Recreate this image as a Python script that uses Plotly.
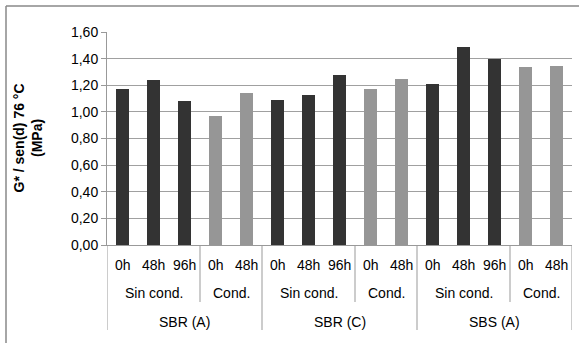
import plotly.graph_objects as go

# Data
groups = ["SBR (A)", "SBR (C)", "SBS (A)"]
subgroups = ["Sin cond.", "Cond."]
times_sin = ["0h", "48h", "96h"]
times_cond = ["0h", "48h"]
values_sin = {"SBR (A)": [1.17, 1.24, 1.08], "SBR (C)": [1.09, 1.13, 1.28], "SBS (A)": [1.21, 1.49, 1.40]}
values_cond = {"SBR (A)": [0.97, 1.14], "SBR (C)": [1.17, 1.25], "SBS (A)": [1.34, 1.345]}
y_ticks = [0, 0.2, 0.4, 0.6, 0.8, 1.0, 1.2, 1.4, 1.6]

dark = "#333333"
light = "#969696"
axis_gray = "#999999"
font_fam = "Liberation Sans, Arial, sans-serif"
fs = 14

# Build flat list
labels, vals, colors = [], [], []
sub_spans = []   # (start, end, label)
grp_spans = []
idx = 0
for g in groups:
    gs = idx
    for sg, times, vdict, col in [("Sin cond.", times_sin, values_sin, dark), ("Cond.", times_cond, values_cond, light)]:
        ss = idx
        for t, v in zip(times, vdict[g]):
            labels.append(t); vals.append(v); colors.append(col)
            idx += 1
        sub_spans.append((ss, idx - 1, sg))
    grp_spans.append((gs, idx - 1, g))
n = len(vals)
xs = list(range(n))

fig = go.Figure(go.Bar(x=xs, y=vals, marker_color=colors, width=0.42, marker_line_width=0))

# y px mapping: plot height 213 px
def py(px_below):
    return -px_below / 213.0

annotations = []
for i, t in enumerate(labels):
    annotations.append(dict(x=i, y=py(20), xref="x", yref="paper", text=t, showarrow=False,
                            font=dict(size=fs, color="#000", family=font_fam), yanchor="middle", xanchor="center"))
for s, e, lab in sub_spans:
    annotations.append(dict(x=(s + e) / 2, y=py(48), xref="x", yref="paper", text=lab, showarrow=False,
                            font=dict(size=fs, color="#000", family=font_fam), yanchor="middle", xanchor="center"))
for s, e, lab in grp_spans:
    annotations.append(dict(x=(s + e) / 2, y=py(77), xref="x", yref="paper", text=lab, showarrow=False,
                            font=dict(size=fs, color="#000", family=font_fam), yanchor="middle", xanchor="center"))
annotations.append(dict(x=-80 / 465, y=0.5, xref="paper", yref="paper", xanchor="center", yanchor="middle",
                        text="<b>G* / sen(d) 76 °C<br>(MPa)</b>", textangle=-90, showarrow=False,
                        font=dict(size=14, color="#000", family=font_fam)))

shapes = []
grp_ends = set(e for _, e, _ in grp_spans)
for s, e, _ in sub_spans:
    if e not in grp_ends:
        shapes.append(dict(type="line", xref="x", yref="paper", x0=e + 0.5, x1=e + 0.5, y0=0, y1=py(57),
                           line=dict(color=axis_gray, width=1)))
shapes.append(dict(type="line", xref="x", yref="paper", x0=-0.5, x1=-0.5, y0=0, y1=py(85),
                   line=dict(color=axis_gray, width=1)))
for s, e, _ in grp_spans:
    shapes.append(dict(type="line", xref="x", yref="paper", x0=e + 0.5, x1=e + 0.5, y0=0, y1=py(85),
                       line=dict(color=axis_gray, width=1)))
# outer chart border (top and left visible)
shapes.append(dict(type="line", xref="paper", yref="paper", x0=-101 / 465, x1=1.05, y0=1 + 26 / 213, y1=1 + 26 / 213,
                   line=dict(color="#888888", width=1.5)))
shapes.append(dict(type="line", xref="paper", yref="paper", x0=-101 / 465, x1=-101 / 465, y0=1 + 26 / 213, y1=py(98),
                   line=dict(color="#888888", width=1.5)))

fig.update_layout(
    width=579, height=346,
    margin=dict(l=107, r=7, t=32, b=101),
    plot_bgcolor="white", paper_bgcolor="white",
    separators=", ",
    showlegend=False,
    bargap=0,
    font=dict(family=font_fam, size=fs, color="#000"),
    xaxis=dict(range=[-0.5, n - 0.5], showticklabels=False, showgrid=False, zeroline=False,
               showline=True, linecolor=axis_gray, linewidth=1, ticks=""),
    yaxis=dict(range=[0, 1.6], tickvals=y_ticks, tickformat=".2f", showgrid=True, gridcolor="#a0a0a0",
               gridwidth=1, zeroline=False, showline=True, linecolor=axis_gray, linewidth=1,
               ticks="outside", ticklen=5, tickcolor=axis_gray, tickfont=dict(size=fs, family=font_fam, color="#000")),
    annotations=annotations,
    shapes=shapes,
)

fig.write_html("out.html", config={"displayModeBar": False})
with open("out.html", encoding="utf-8") as f:
    html = f.read()
html = html.replace("<body>", '<body style="margin:0;padding:0;overflow:hidden">', 1)
with open("out.html", "w", encoding="utf-8") as f:
    f.write(html)
